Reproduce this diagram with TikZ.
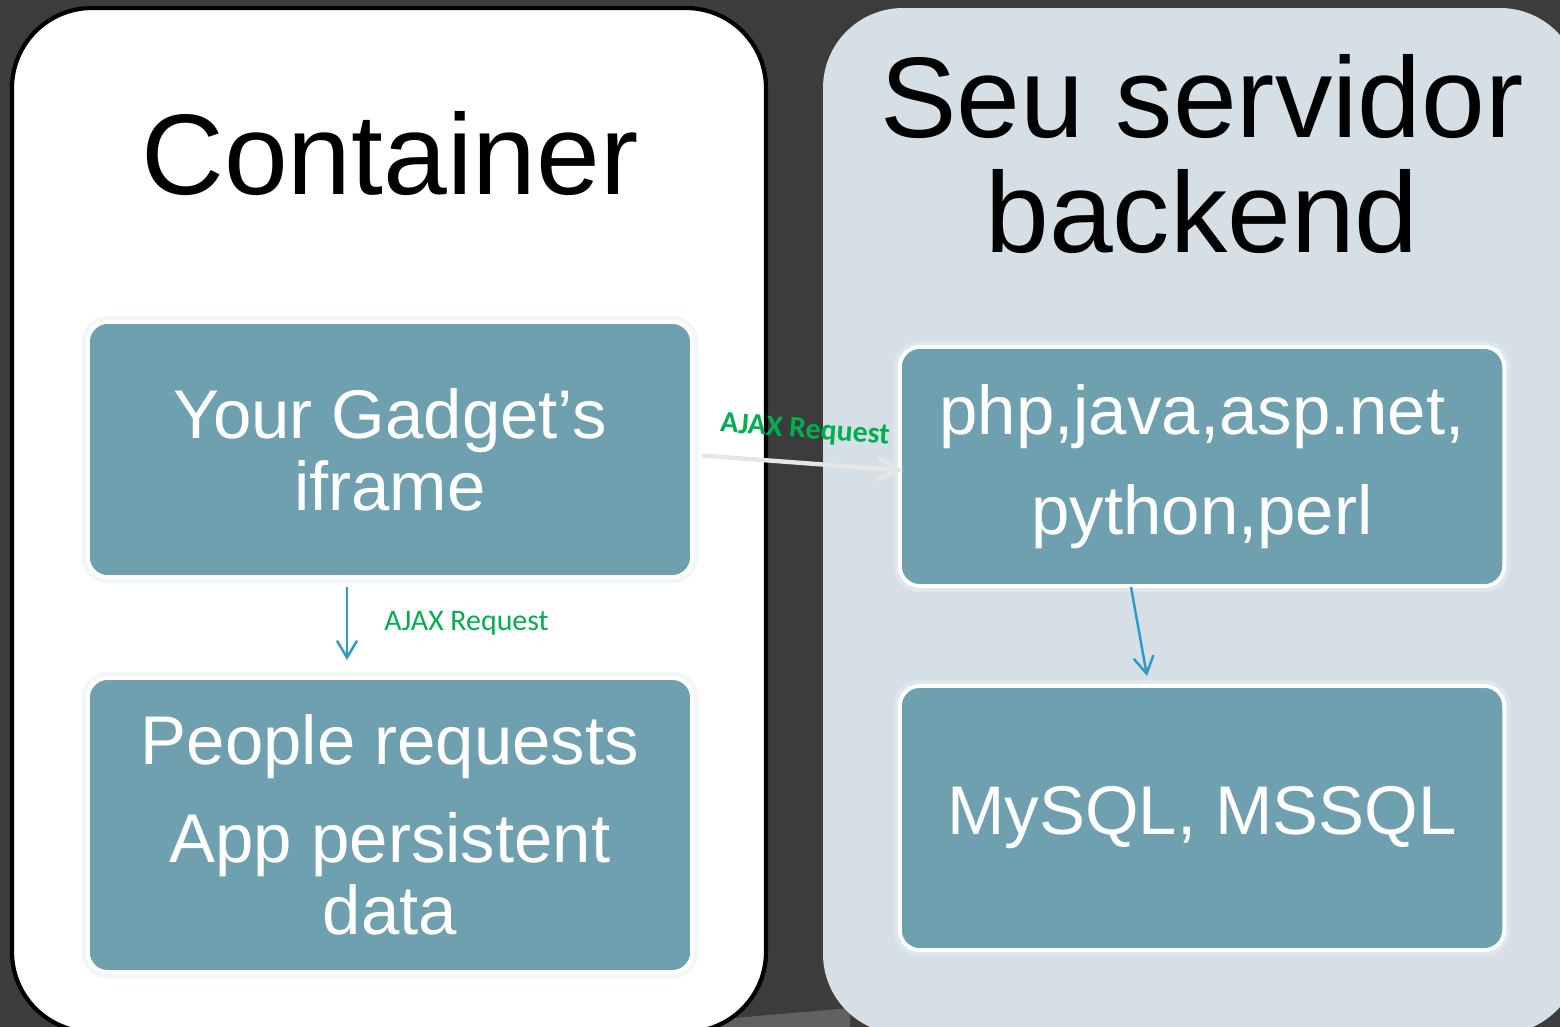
\documentclass[tikz,border=0pt]{standalone}
\usepackage{fontspec}
\setmainfont{Liberation Sans}
\newfontfamily\calibri{Carlito}
\usetikzlibrary{arrows.meta}

\definecolor{bgdark}{HTML}{3C3C3C}
\definecolor{mist}{HTML}{D6DFE5}
\definecolor{tileblue}{HTML}{6FA0B0}
\definecolor{glow}{HTML}{E4EFF3}
\definecolor{ajaxgreen}{HTML}{00B050}
\definecolor{flowblue}{HTML}{2E9AC8}
\definecolor{reqgray}{HTML}{E6E6E6}

\begin{document}
\begin{tikzpicture}[
	x=0.01cm, y=-0.01cm,
	panel/.style={rounded corners=0.8cm},
	title/.style={
		align=center, inner sep=0pt,
		font=\fontsize{32.6}{32.7}\selectfont
	},
	tile/.style={
		rectangle, rounded corners=0.2cm,
		draw=white, line width=1.1pt, fill=tileblue,
		minimum width=6.04cm, align=center, text=white,
		inner sep=0pt,
		font=\fontsize{19.6}{20.5}\selectfont,
		preaction={draw=glow, line width=3.5pt, opacity=0.5}
	},
	tag/.style={inner sep=0pt, text=ajaxgreen, font=\calibri\fontsize{8.5}{10}\selectfont},
	flow/.style={-{Straight Barb[length=4.8pt, width=5.7pt]}, line width=0.7pt, flowblue},
	req/.style={-{Straight Barb[length=6pt, width=6.5pt]}, line width=1.25pt, reqgray}
]
\useasboundingbox (0,0) rectangle (1560,1027);
\fill[bgdark] (0,0) rectangle (1560,1027);
\fill[gray!55!bgdark] (700,1027) -- (700,1021) -- (850,1008) -- (850,1027) -- cycle;

% Two panels
\draw[panel, fill=white, draw=black, line width=1.2pt] (12,8) rectangle (766,1032);
\fill[panel, mist] (823,8) rectangle (1580,1034);

\node[title, anchor=base] (cont) at (390,194) {Container};
\node[title] (serv) at (1202,154) {Seu servidor\\backend};

% Left column
\node[tile, minimum height=2.55cm] (gadget) at (390,449.5) {Your Gadget’s\\iframe};
\node[tile, minimum height=2.94cm] (people) at (390,825) {People requests\\[7.4pt]App persistent\\data};

% Right column
\node[tile, minimum height=2.39cm] (lang) at (1202,466.5) {php,java,asp.net,\\[8pt]python,perl};
\node[tile, minimum height=2.64cm] (db) at (1202,818) {MySQL, MSSQL};

% Connectors
\draw[flow] ([shift={(-43,8)}]gadget.south) -- node[right=0.36cm, tag] {AJAX Request} ([shift={(-43,-16)}]people.north);
\draw[req] ([shift={(8,6)}]gadget.east) -- node[sloped, above=0.18cm, tag, font=\calibri\bfseries\fontsize{8.5}{10}\selectfont] {AJAX Request} ([shift={(5,4)}]lang.west);
\draw[flow] ([shift={(-71,-1)}]lang.south) -- ([shift={(-55,-8)}]db.north);

\end{tikzpicture}
\end{document}
